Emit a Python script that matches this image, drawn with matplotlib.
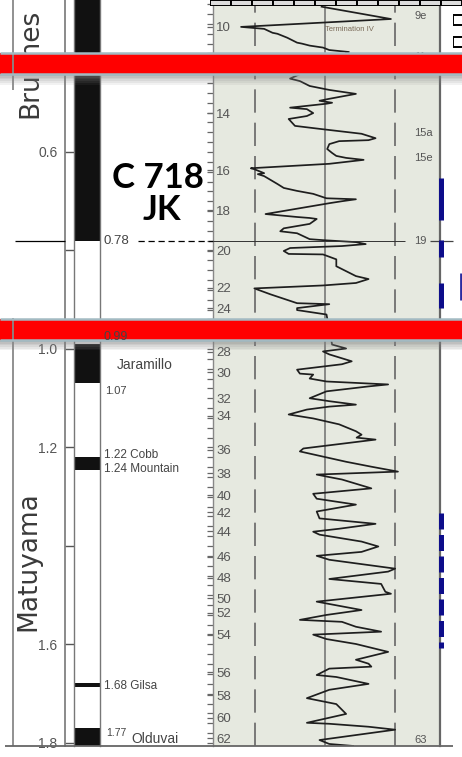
import numpy as np
import matplotlib.pyplot as plt

plt.rcParams['font.family'] = ['Liberation Sans', 'DejaVu Sans']

W, H = 462, 757
AGE_TOP = 0.2914        # Ma at the top edge of the picture
PX_MA = 492.5           # pixels per Ma
BASE_PX = 746           # bottom line of the columns
BASE_AGE = AGE_TOP + BASE_PX / PX_MA
FIG_AGE = AGE_TOP + H / PX_MA

# polarity column: normal intervals (Ma)
normal_top = [0.25, 0.99, 1.22, 1.678, 1.77]
normal_base = [0.78, 1.07, 1.245, 1.686, 1.85]

# age axis
age_ticks = [0.4, 0.6, 0.8, 1.0, 1.2, 1.4, 1.6, 1.8]
age_ticklabels = ['', '0.6', '', '1.0', '1.2', '', '1.6', '1.8']

# marine isotope stage ticks (stage, age Ma)
mis_stage = [10, 14, 16, 18, 20, 22, 24, 28, 30, 32, 34, 36, 38, 40, 42,
             44, 46, 48, 50, 52, 54, 56, 58, 60, 62]
mis_age = [0.346, 0.521, 0.637, 0.718, 0.801, 0.876, 0.917, 1.006, 1.047,
           1.100, 1.136, 1.205, 1.252, 1.297, 1.331, 1.370, 1.422, 1.465,
           1.506, 1.536, 1.579, 1.656, 1.703, 1.749, 1.790]

# stage labels at the right of the curve
right_lab = ['9e', '11', '15a', '15e', '19', '63']
right_age = [0.324, 0.407, 0.5615, 0.612, 0.78, 1.794]

# benthic d18O curve (age ka, permil)
iso_age = [305, 330, 346, 350, 358, 360, 368, 378, 380, 384, 388, 393, 397,
           451, 456, 466, 474, 482, 492, 496, 500, 502, 510, 513, 521, 527,
           533, 547, 553, 563, 572, 576, 578, 584, 594, 602, 608, 612, 616,
           624, 633, 635, 643, 645, 649, 665, 673, 679, 685, 694, 696, 700,
           704, 726, 732, 734, 736, 746, 755, 761, 765, 771, 777, 779, 783,
           787, 791, 795, 801, 807, 808, 818, 832, 842, 852, 858, 866, 871,
           877, 889, 907, 909, 917, 921, 930,
           991, 999, 1005, 1011, 1025, 1031, 1042, 1050, 1052, 1060, 1066,
           1072, 1076, 1086, 1100, 1106, 1113, 1117, 1123, 1133, 1141, 1153,
           1167, 1174, 1180, 1184, 1202, 1208, 1214, 1229, 1239, 1249, 1255,
           1259, 1265, 1283, 1294, 1304, 1316, 1330, 1344, 1355, 1365, 1371,
           1377, 1391, 1401, 1412, 1420, 1428, 1446, 1452, 1467, 1477, 1493,
           1497, 1513, 1528, 1530, 1540, 1550, 1554, 1564, 1574, 1580, 1589,
           1599, 1615, 1631, 1639, 1645, 1649, 1662, 1666, 1680, 1692, 1709,
           1721, 1741, 1759, 1761, 1767, 1773, 1794, 1802, 1806]
iso_d18o = [3.95, 4.94, 2.80, 3.13, 3.25, 3.32, 3.46, 3.60, 3.67, 3.78, 3.97, 4.06, 4.34,
            3.50, 3.64, 3.78, 4.06, 4.44, 4.06, 3.92, 4.10, 4.02, 3.50, 3.74, 3.83, 3.74,
            3.48, 3.57, 3.92, 4.52, 4.72, 4.62, 4.20, 4.06, 4.03, 4.10, 4.16, 4.30, 4.55,
            4.06, 2.94, 2.99, 3.13, 3.04, 3.13, 3.32, 3.41, 3.60, 3.83, 4.02, 4.44, 4.24,
            4.06, 3.15, 3.60, 3.78, 3.88, 3.78, 3.41, 3.36, 3.60, 3.69, 3.78, 3.97, 4.44,
            4.58, 4.24, 3.50, 3.41, 3.48, 3.97, 4.16, 4.16, 4.30, 4.44, 4.62, 4.44, 3.97,
            2.99, 3.22, 3.60, 4.06, 3.60, 3.60, 4.02,
            4.10, 4.30, 3.97, 4.06, 4.38, 4.24, 3.60, 3.64, 3.83, 3.78, 4.02,
            4.90, 4.62, 4.02, 3.78, 4.06, 4.44, 4.06, 3.74, 3.48, 3.83, 4.20,
            4.44, 4.52, 4.45, 4.72, 3.69, 3.64, 3.83, 4.30, 4.66, 5.04, 3.88,
            4.02, 4.24, 4.66, 3.83, 3.88, 4.44, 3.88, 3.92, 4.72, 4.20, 3.83,
            3.92, 4.52, 4.76, 4.52, 3.88, 4.06, 5.00, 4.90, 4.06, 4.80, 4.86,
            4.94, 3.88, 4.44, 4.52, 4.02, 3.64, 4.24, 4.44, 4.80, 3.83, 4.02,
            4.44, 4.90, 4.44, 4.62, 4.66, 4.06, 3.88, 4.16, 4.62, 4.06, 3.74,
            4.16, 4.30, 3.74, 4.06, 4.62, 5.00, 3.92, 4.06, 4.40]

# highlighted intervals (Ma)
red_bars = [(0.399, 0.442), (0.939, 0.982)]
blue_solid = [(0.653, 0.738), (0.779, 0.813), (0.866, 0.917)]
blue_dashed = (1.333, 1.607)

fig = plt.figure(figsize=(W / 100, H / 100), dpi=100)
fig.patch.set_facecolor('white')
col_rect_y = (H - BASE_PX) / H
col_rect_h = BASE_PX / H

# age axis
ax_age = fig.add_axes([65 / W, col_rect_y, 9 / W, col_rect_h])
ax_age.set_ylim(BASE_AGE, AGE_TOP)
ax_age.patch.set_alpha(0)
for s in ['top', 'right', 'bottom']:
    ax_age.spines[s].set_visible(False)
ax_age.spines['left'].set_color('#777777')
ax_age.spines['left'].set_linewidth(1.2)
ax_age.set_xticks([])
ax_age.set_yticks(age_ticks)
ax_age.set_yticklabels(age_ticklabels)
ax_age.tick_params(axis='y', direction='in', length=7.5, width=1.0, color='#555555',
                   labelsize=10, labelcolor='#555555', pad=5.5)

# polarity column
ax_pol = fig.add_axes([73.5 / W, col_rect_y, 26.5 / W, col_rect_h])
ax_pol.set_ylim(BASE_AGE, AGE_TOP)
ax_pol.set_xlim(0, 1)
ax_pol.bar(0.06, np.array(normal_base) - np.array(normal_top), bottom=normal_top,
           width=0.94, align='edge', color='#111111')
for s in ['top', 'bottom']:
    ax_pol.spines[s].set_visible(False)
for s in ['left', 'right']:
    ax_pol.spines[s].set_color('#777777')
    ax_pol.spines[s].set_linewidth(1.0)
ax_pol.set_xticks([])
ax_pol.set_yticks([])

# isotope panel
ax_iso = fig.add_axes([213 / W, col_rect_y, 227 / W, col_rect_h])
ax_iso.set_facecolor('#e6e9e0')
ax_iso.set_ylim(BASE_AGE, AGE_TOP)
ax_iso.set_xlim(2.40, 5.64)
for s in ['top', 'bottom']:
    ax_iso.spines[s].set_visible(False)
ax_iso.spines['left'].set_color('#888888')
ax_iso.spines['left'].set_linewidth(1.0)
ax_iso.spines['right'].set_color('#666666')
ax_iso.spines['right'].set_linewidth(1.6)
ax_iso.set_xticks([])
ax_iso.set_yticks(mis_age)
ax_iso.set_yticklabels([str(m) for m in mis_stage])
ax_iso.set_yticks(np.arange(0.30, 1.81, 0.02), minor=True)
ax_iso.tick_params(axis='y', which='both', direction='out', length=4.5, width=0.9,
                   color='#666666')
ax_iso.tick_params(axis='y', which='major', labelsize=9.5, labelcolor='#555555', pad=-6.8)
for lab in ax_iso.get_yticklabels():
    lab.set_horizontalalignment('left')

for v in [3.0, 5.0]:
    ax_iso.axvline(v, color='#666666', lw=1.2, ls=(0, (14, 6)))
ax_iso.axvline(4.0, color='#777777', lw=1.2)
ax_iso.plot(iso_d18o, np.array(iso_age) / 1000, color='#1e1e1e', lw=1.25, zorder=3)

for lab, a in zip(right_lab, right_age):
    ax_iso.text(5.27, a, lab, fontsize=8, color='#555555', va='center', ha='left')
ax_iso.text(4.0, 0.352, 'Termination IV', fontsize=5.5, color='#7a6a58',
            va='center', ha='left')

# top ruler
ax_r = fig.add_axes([210 / W, (H - 6) / H, 252 / W, 6 / H], zorder=5)
ax_r.bar(np.arange(12), np.ones(12), width=1, align='edge', color='#dcdcdc',
         edgecolor='black', lw=1.4)
ax_r.set_xlim(0, 12)
ax_r.set_ylim(0, 1)
ax_r.axis('off')
ax_s = fig.add_axes([453 / W, (H - 50) / H, 9 / W, 38 / H], zorder=5)
ax_s.barh([8, 30], [2, 2], height=10, color='white', edgecolor='black', lw=1.4)
ax_s.set_xlim(0, 1)
ax_s.set_ylim(38, 0)
ax_s.axis('off')

# overlay: lines, labels and the red bars
ax_ov = fig.add_axes([0, 0, 1, 1], zorder=10)
ax_ov.set_xlim(0, 1)
ax_ov.set_ylim(FIG_AGE, AGE_TOP)
ax_ov.axis('off')
ax_ov.patch.set_alpha(0)

ax_ov.vlines(13 / W, AGE_TOP, 0.474, color='#888888', lw=1.3)
ax_ov.vlines(13 / W, 0.937, BASE_AGE, color='#888888', lw=1.3)
ax_ov.hlines(BASE_AGE, 5 / W, 453 / W, color='#666666', lw=1.3)

ax_ov.hlines(0.78, 15 / W, 65 / W, color='black', lw=0.9)
ax_ov.hlines(0.78, 138 / W, 213 / W, color='black', lw=0.9, linestyles=(0, (5, 3)))
ax_ov.hlines(0.78, 213 / W, 405 / W, color='#333333', lw=0.7)
ax_ov.hlines(0.78, 430 / W, 453 / W, color='#444444', lw=0.9)

pol_labels = ['0.78', '0.99', 'Jaramillo', '1.07', '1.22 Cobb', '1.24 Mountain',
              '1.68 Gilsa', '1.77', 'Olduvai']
pol_age = [0.78, 0.976, 1.0325, 1.085, 1.215, 1.244, 1.684, 1.780, 1.792]
pol_x = [103, 103, 117, 105, 104, 104, 104, 106, 131]
pol_size = [9.5, 9, 10, 8, 8.5, 8.5, 8.5, 7.5, 10]
for lab, a, x, s in zip(pol_labels, pol_age, pol_x, pol_size):
    ax_ov.text(x / W, a, lab, fontsize=s, color='#444444', va='center', ha='left')

fig.text(30 / W, 1 - 63 / H, 'Brunhes', rotation=90, family='DejaVu Sans',
         fontsize=19, color='#3a3a3a', ha='center', va='center')
fig.text(28 / W, 1 - 561 / H, 'Matuyama', rotation=90, family='DejaVu Sans',
         fontsize=19, color='#3a3a3a', ha='center', va='center')
fig.text(157.5 / W, 1 - 188 / H, 'C 718', family='Lato', weight='bold',
         fontsize=25, color='black', ha='center', va='baseline')
fig.text(161.5 / W, 1 - 220 / H, 'JK', family='Lato', weight='bold',
         fontsize=25, color='black', ha='center', va='baseline')

# blue marks at the right edge of the panel
for t, b in blue_solid:
    ax_ov.vlines(440.5 / W, t, b, color='#0d0d8a', lw=3.6)
ax_ov.plot([440.5 / W, 440.5 / W], list(blue_dashed), color='#0d0d8a', lw=3.6,
           ls=(0, (3.2, 1.1)), solid_capstyle='butt')
ax_ov.vlines(460.5 / W, 0.846, 0.901, color='#2a2aa0', lw=2.0)

# red bars with their shadows
for t, b in red_bars:
    for i in range(6):
        ax_ov.axhspan(b + i * 0.0035, b + (i + 1) * 0.0035, color='0.5',
                      alpha=0.6 * (1 - i / 6), lw=0)
    ax_ov.axhspan(t, b, facecolor='#ff0000', lw=0)
    ax_ov.hlines([t, b], 0, 1, color='#a3bac2', lw=1.8)

fig.savefig('out.png', dpi=100)
